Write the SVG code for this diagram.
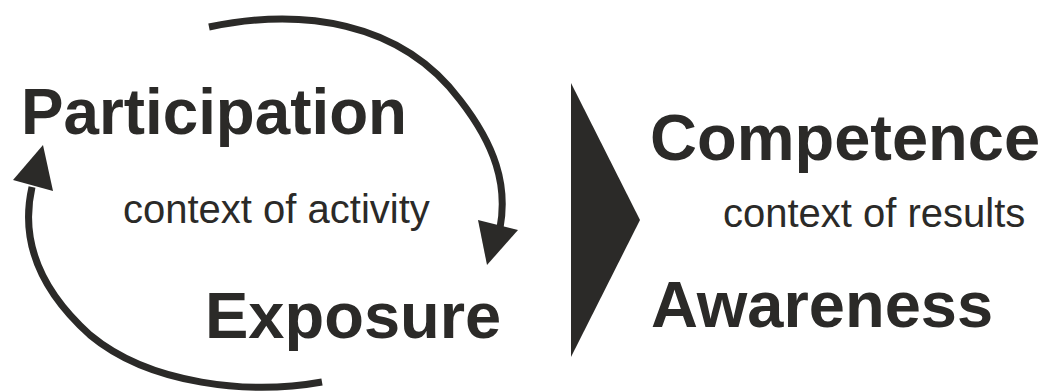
<svg xmlns="http://www.w3.org/2000/svg" width="1045" height="392" viewBox="0 0 1045 392">
<style>
.big{font-family:"Liberation Sans",Arial,sans-serif;font-weight:bold;font-size:65px;fill:#2b2a28}
.small{font-family:"Liberation Sans",Arial,sans-serif;font-size:40px;fill:#2b2a28}
.arc{fill:none;stroke:#2b2a28;stroke-width:7}
.head{fill:#2b2a28}
</style>
<rect width="1045" height="392" fill="#ffffff"/>
<g id="connectors">
<path class="arc" d="M209,27 C300,8 400,20 460,100 C495,145 508,185 500,228"/>
<polygon class="head" points="478,220 518,230 487,265"/>
<path class="arc" d="M322,382 C250,395 150,385 90,335 C40,290 20,240 32,187"/>
<polygon class="head" points="13,180 43,145 53,191"/>
<polygon class="head" points="571,83 640,220 571,357"/>
</g>
<g id="participation"><text class="big" x="21" y="134" textLength="386" lengthAdjust="spacingAndGlyphs">Participation</text></g>
<g id="activity"><text class="small" x="123" y="223">context of activity</text></g>
<g id="exposure"><text class="big" x="205" y="338">Exposure</text></g>
<g id="competence"><text class="big" x="650" y="160">Competence</text></g>
<g id="results"><text class="small" x="723" y="227">context of results</text></g>
<g id="awareness"><text class="big" x="651" y="327">Awareness</text></g>
</svg>
